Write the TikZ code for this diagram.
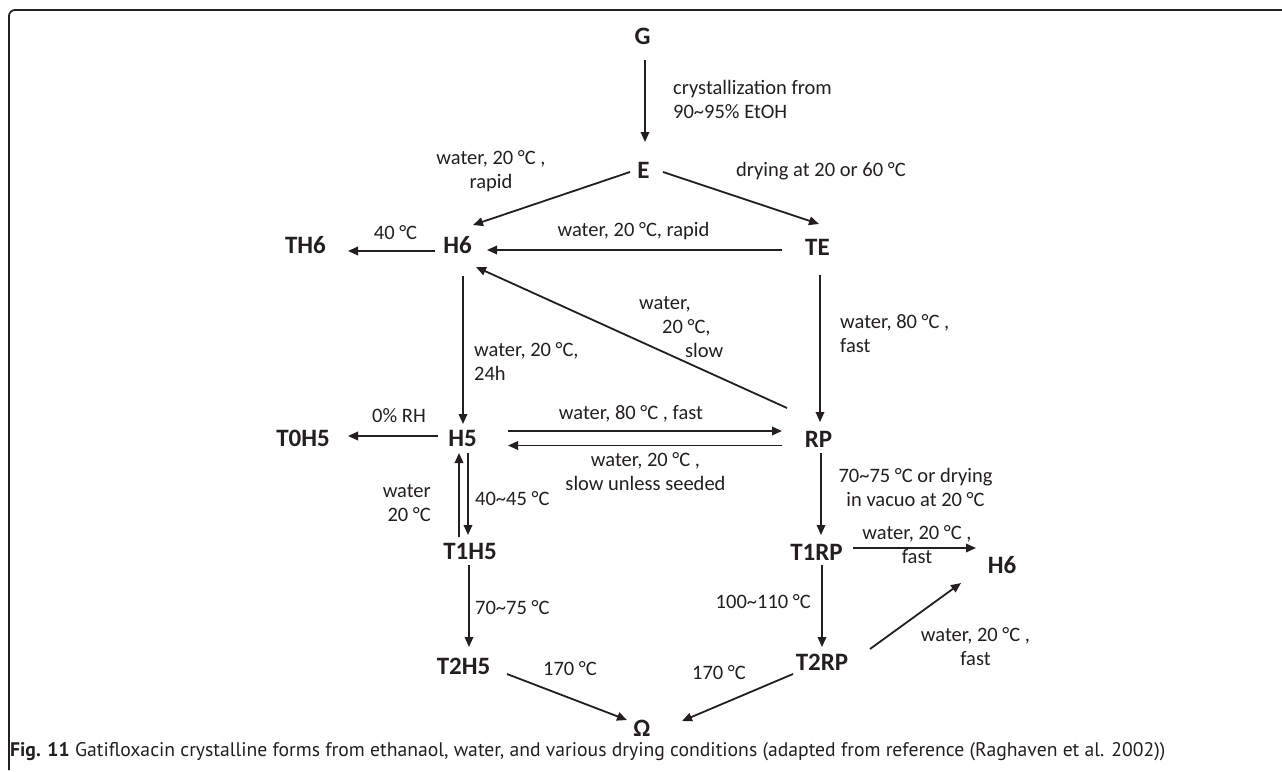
\documentclass[tikz,border=0pt]{standalone}
\usepackage{fontspec}
\setmainfont{Carlito}
\newfontfamily\capfont{PT Sans}
\usetikzlibrary{arrows.meta}
\definecolor{ink}{HTML}{231F20}
\tikzset{
  st/.style={font=\bfseries\fontsize{25}{30}\selectfont, inner sep=0pt, text height=16pt, text depth=0pt, anchor=center, text=ink},
  lb/.style={font=\fontsize{20.5}{24}\selectfont, inner sep=0pt, text=ink},
  arr/.style={draw=ink, line width=1.8pt, -{Triangle[length=10pt,width=8.5pt]}},
}
\begin{document}
\begin{tikzpicture}[x=1pt,y=-1pt]
\useasboundingbox (0,0) rectangle (1282,771);
% frame
\draw[ink, line width=1.8pt, rounded corners=6pt] (9,770) -- (9,10) -- (1283,10);
% states
\node[st] (G) at (642.5,36) {G};
\node[st] (E) at (643.5,170) {E};
\node[st] (TE) at (817.5,247) {TE};
\node[st] (H6) at (457.5,245.5) {H6};
\node[st] (TH6) at (305.5,245.5) {TH6};
\node[st] (H5) at (462.5,438.5) {H5};
\node[st] (T0H5) at (303,438.5) {T0H5};
\node[st] (RP) at (818.5,439.5) {RP};
\node[st] (T1H5) at (470,551.5) {T1H5};
\node[st] (T2H5) at (463.5,666.5) {T2H5};
\node[st] (T1RP) at (816.5,552) {T1RP};
\node[st] (H6b) at (1002,565.5) {H6};
\node[st] (T2RP) at (822,662.5) {T2RP};
\node[st] (Om) at (642,728) {Ω};
% arrows
\draw[arr] ([shift={(2.5,24)}]G.center) -- ([shift={(1.5,-28)}]E.center);
\draw[arr] ([shift={(-13.5,2)}]E.center) -- ([shift={(15.5,-20.5)}]H6.center);
\draw[arr] ([shift={(19.5,2)}]E.center) -- ([shift={(1.5,-23)}]TE.center);
\draw[arr] ([shift={(-35.5,3)}]TE.center) -- ([shift={(29.5,4.5)}]H6.center);
\draw[arr] ([shift={(-22.5,5.5)}]H6.center) -- ([shift={(42.5,5.5)}]TH6.center);
\draw[arr] ([shift={(5.5,30.5)}]H6.center) -- ([shift={(0.5,-14.5)}]H5.center);
\draw[arr] ([shift={(-31.5,-31.5)}]RP.center) -- ([shift={(18.5,21.5)}]H6.center);
\draw[arr] ([shift={(2.5,28)}]TE.center) -- ([shift={(1.5,-17.5)}]RP.center);
\draw[arr] ([shift={(-24.5,-2.5)}]H5.center) -- ([shift={(45,-2.5)}]T0H5.center);
\draw[arr] ([shift={(45.5,-7.5)}]H5.center) -- ([shift={(-36.5,-8.5)}]RP.center);
\draw[arr] ([shift={(-36.5,6)}]RP.center) -- ([shift={(45.5,7)}]H5.center);
\draw[arr] ([shift={(-11,-14.5)}]T1H5.center) -- ([shift={(-3.5,14.5)}]H5.center);
\draw[arr] ([shift={(5.5,14.5)}]H5.center) -- ([shift={(-2,-16.5)}]T1H5.center);
\draw[arr] ([shift={(-1,13.5)}]T1H5.center) -- ([shift={(5.5,-19.5)}]T2H5.center);
\draw[arr] ([shift={(43.5,7.5)}]T2H5.center) -- ([shift={(-15,-8)}]Om.center);
\draw[arr] ([shift={(2.5,13.5)}]RP.center) -- ([shift={(4.5,-17)}]T1RP.center);
\draw[arr] ([shift={(36.5,-4)}]T1RP.center) -- ([shift={(-26,-17.5)}]H6b.center);
\draw[arr] ([shift={(5.5,13)}]T1RP.center) -- ([shift={(0,-15.5)}]T2RP.center);
\draw[arr] ([shift={(48,-13.5)}]T2RP.center) -- ([shift={(-41,17.5)}]H6b.center);
\draw[arr] ([shift={(-29,11.5)}]T2RP.center) -- ([shift={(40,-7)}]Om.center);
% labels (multi-line: anchor at the last line's baseline)
\node[lb, anchor=base west, align=left] (l1) at (673,118) {crystallization from\\90\textasciitilde 95\% EtOH};
\node[lb, anchor=base, align=center] (l2) at (491,188) {water, 20 °C ,\\rapid};
\node[lb, anchor=base west] (l3) at (736,176) {drying at 20 or 60 °C};
\node[lb, anchor=base] (l4) at (395.5,239) {40 °C};
\node[lb, anchor=base] (l5) at (633.5,236) {water, 20 °C, rapid};
\node[lb, anchor=base west, align=left] (l6) at (474,380) {water, 20 °C,\\24h};
\node[lb, anchor=base west, align=left] (l7) at (639,357) {water,\\\hspace*{23pt}20 °C,\\\hspace*{46pt}slow};
\node[lb, anchor=base west, align=left] (l8) at (840,352) {water, 80 °C ,\\fast};
\node[lb, anchor=base] (l9) at (399,422) {0\% RH};
\node[lb, anchor=base] (l10) at (631,419) {water, 80 °C , fast};
\node[lb, anchor=base, align=center] (l11) at (645.5,490) {water, 20 °C ,\\slow unless seeded};
\node[lb, anchor=base east, align=right] (l12) at (431,521) {water\\20 °C};
\node[lb, anchor=base west] (l13) at (475,505) {40\textasciitilde 45 °C};
\node[lb, anchor=base west] (l14) at (475,614) {70\textasciitilde 75 °C};
\node[lb, anchor=base] (l15) at (570,675) {170 °C};
\node[lb, anchor=base, align=center] (l16) at (915.5,506) {70\textasciitilde 75 °C or drying\\in vacuo at 20 °C};
\node[lb, anchor=base, align=center] (l17) at (917,563) {water, 20 °C ,\\fast};
\node[lb, anchor=base east] (l18) at (811,608) {100\textasciitilde 110 °C};
\node[lb, anchor=base, align=center] (l19) at (975.5,665) {water, 20 °C ,\\fast};
\node[lb, anchor=base] (l20) at (719,679) {170 °C};
% caption
\node[inner sep=0pt, anchor=base west, text=ink] (cap) at (10,756) {\resizebox{1155pt}{!}{\capfont\fontsize{17}{20}\selectfont\textbf{Fig. 11} Gatifloxacin crystalline forms from ethanaol, water, and various drying conditions (adapted from reference (Raghaven et al. 2002))}};
\end{tikzpicture}
\end{document}
